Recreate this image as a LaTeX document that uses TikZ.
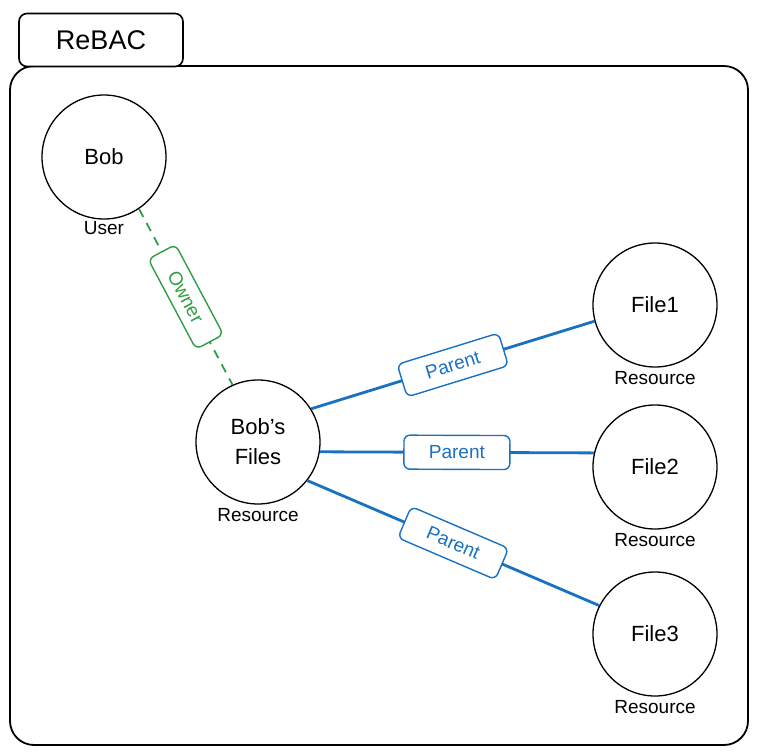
\documentclass[tikz,border=0pt]{standalone}
\usepackage{fontspec}
\setmainfont{Liberation Sans}
\usepackage{xcolor}
\usetikzlibrary{positioning}
\definecolor{ownergreen}{HTML}{2F9E44}
\definecolor{parentblue}{HTML}{1971C2}
\tikzset{
	entity/.style={
			draw, circle, line width=1.3pt, minimum size=124pt, inner sep=0pt,
			align=center, font=\fontsize{22}{30}\selectfont
		},
	kind/.style={font=\fontsize{19}{21}\selectfont, inner sep=2pt},
	relbox/.style={
			draw, solid, fill=white, rounded corners=6pt, line width=1.4pt,
			minimum height=34pt, inner xsep=25pt, midway, sloped,
			font=\fontsize{19}{21}\selectfont
		},
	owner/.style={ownergreen, line width=1.8pt, dash pattern=on 9pt off 7pt},
	parent/.style={parentblue, line width=2.8pt}
}

\begin{document}
\begin{tikzpicture}[x=1pt, y=-1pt]
	\useasboundingbox (0,0) rectangle (757,754);

	% Draw the frame and its tab
	\draw[line width=1.8pt, rounded corners=24pt] (10,66) rectangle (748,745);
	\node[draw, fill=white, line width=1.6pt, rounded corners=8pt, minimum width=164pt,
		minimum height=53pt, font=\fontsize{27}{30}\selectfont] (title) at (101,40) {ReBAC};

	% Draw the entities
	\node[entity] (bob) at (104,157) {Bob};
	\node[entity] (bobfiles) at (258,442) {Bob's\\Files};
	\node[entity] (file1) at (655,305) {File1};
	\node[entity] (file2) at (655,467) {File2};
	\node[entity] (file3) at (655,634) {File3};

	% Draw the types
	\node[kind, below=0pt of bob] (bobkind) {User};
	\node[kind, below=2pt of bobfiles] (bobfileskind) {Resource};
	\node[kind, below=2pt of file1] (file1kind) {Resource};
	\node[kind, below=2pt of file2] (file2kind) {Resource};
	\node[kind, below=2pt of file3] (file3kind) {Resource};

	% Draw the relations
	\draw[owner] (bob.-56) -- (bobfiles.114) node[relbox, inner xsep=23pt, minimum height=31pt] (ownerrel) {Owner};
	\draw[parent] (bobfiles.32) -- (file1.195) node[relbox] (parentrel1) {Parent};
	\draw[parent] (bobfiles.-9) -- (file2.167) node[relbox] (parentrel2) {Parent};
	\draw[parent] (bobfiles.-38) -- (file3.153) node[relbox] (parentrel3) {Parent};
\end{tikzpicture}
\end{document}
